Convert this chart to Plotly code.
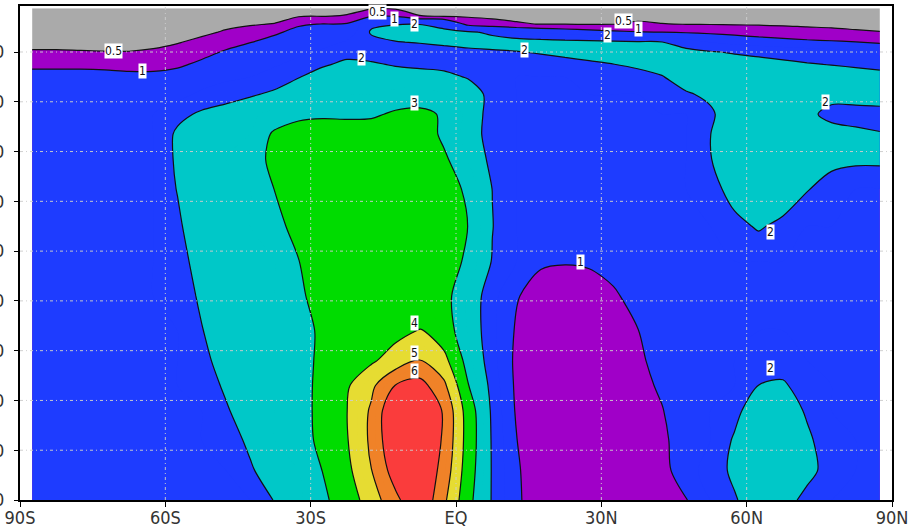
import plotly.graph_objects as go

# latitude of grid columns (deg, negative = south)
lat = [-87.5, -82.5, -77.5, -72.5, -67.5, -62.5, -57.5, -52.5, -47.5, -42.5,
       -37.5, -32.5, -27.5, -22.5, -17.5, -12.5, -7.5, -2.5, 2.5, 7.5,
       12.5, 17.5, 22.5, 27.5, 32.5, 37.5, 42.5, 47.5, 52.5, 57.5,
       62.5, 67.5, 72.5, 77.5, 82.5, 87.5]

# vertical levels of grid rows (top to bottom)
lev = [12, 28, 44, 60, 80, 100, 125, 150, 185, 225, 265, 315, 375, 450,
       520, 590, 660, 720, 770, 820, 880, 940, 1000]

# field values, one column per latitude (top -> bottom)
col_875S = [0.25,0.25,0.25,0.28,0.4,0.53,0.94,1.1,1.31,1.5,1.5,1.5,1.5,1.5,1.5,1.5,1.5,1.5,1.5,1.5,1.5,1.5,1.5]
col_825S = [0.25,0.25,0.25,0.28,0.4,0.53,0.94,1.1,1.31,1.5,1.5,1.5,1.5,1.5,1.5,1.5,1.5,1.5,1.5,1.5,1.5,1.5,1.5]
col_775S = [0.25,0.25,0.25,0.28,0.39,0.52,0.94,1.1,1.31,1.5,1.5,1.5,1.5,1.5,1.5,1.5,1.5,1.5,1.5,1.5,1.5,1.5,1.5]
col_725S = [0.25,0.25,0.25,0.27,0.39,0.51,0.93,1.09,1.31,1.5,1.5,1.5,1.5,1.5,1.5,1.5,1.5,1.5,1.5,1.5,1.5,1.5,1.5]
col_675S = [0.25,0.25,0.25,0.25,0.38,0.51,0.91,1.07,1.28,1.5,1.5,1.5,1.5,1.5,1.5,1.5,1.5,1.5,1.5,1.5,1.5,1.5,1.5]
col_625S = [0.25,0.25,0.25,0.29,0.42,0.54,0.91,1.07,1.28,1.5,1.5,1.5,1.5,1.5,1.5,1.5,1.5,1.5,1.5,1.5,1.5,1.5,1.5]
col_575S = [0.25,0.25,0.26,0.36,0.48,0.61,0.95,1.12,1.33,1.83,2.11,2.11,2.03,1.87,1.7,1.53,1.5,1.5,1.5,1.5,1.5,1.5,1.5]
col_525S = [0.25,0.25,0.34,0.44,0.57,0.91,1.06,1.22,1.6,2.1,2.5,2.5,2.5,2.5,2.33,2.15,1.96,1.76,1.54,1.5,1.5,1.5,1.5]
col_475S = [0.25,0.33,0.43,0.53,0.9,1.03,1.18,1.4,1.76,2.26,2.5,2.5,2.5,2.5,2.5,2.5,2.5,2.36,2.14,1.9,1.58,1.5,1.5]
col_425S = [0.27,0.38,0.48,0.58,0.99,1.12,1.27,1.5,1.93,2.43,2.5,2.61,2.5,2.5,2.5,2.5,2.5,2.5,2.5,2.5,2.18,1.89,1.5]
col_375S = [0.31,0.41,0.51,0.96,1.08,1.21,1.45,1.69,2.11,2.61,3.1,3.22,3.01,2.67,2.5,2.5,2.5,2.5,2.5,2.5,2.5,2.49,2.03]
col_325S = [0.36,0.46,0.97,1.07,1.2,1.4,1.64,1.97,2.39,2.83,3.33,3.5,3.5,3.36,2.98,2.82,2.6,2.63,2.65,2.64,2.61,2.5,2.43]
col_275S = [0.4,0.49,1.01,1.11,1.24,1.63,1.93,2.26,2.5,2.89,3.39,3.5,3.5,3.5,3.5,3.42,3.2,3.22,3.26,3.28,3.24,3.02,2.83]
col_225S = [0.42,0.52,1.05,1.15,1.57,1.82,2.12,2.44,2.5,2.87,3.37,3.5,3.5,3.5,3.5,3.5,3.5,3.5,3.89,3.99,3.94,3.75,3.47]
col_175S = [0.44,0.98,1.88,2.07,1.82,1.77,2.07,2.39,2.5,2.89,3.39,3.5,3.5,3.5,3.5,3.5,3.5,3.86,4.78,5.13,5.18,4.98,4.47]
col_125S = [0.43,0.97,1.98,2.19,1.98,1.7,1.95,2.27,2.6,3.1,3.5,3.5,3.5,3.5,3.5,3.5,3.69,4.44,6.03,7.0,6.94,6.49,5.75]
col_75S  = [0.41,0.51,1.99,2.19,2.03,1.78,1.89,2.21,2.66,3.16,3.45,3.5,3.5,3.5,3.5,3.5,4.05,5.02,6.42,7.0,7.0,7.0,6.93]
col_25S  = [0.38,0.48,1.8,2.14,2.09,1.84,1.83,2.16,2.5,2.93,2.85,3.12,3.47,3.5,3.48,3.27,3.42,4.3,5.22,5.9,5.87,5.63,5.21]
col_25N  = [0.35,0.45,0.82,2.07,2.15,1.9,1.6,1.95,2.38,2.36,2.32,2.48,2.82,2.99,2.83,2.43,2.46,2.65,3.04,3.5,3.56,3.45,3.27]
col_75N  = [0.32,0.42,0.65,1.9,2.19,1.94,1.64,1.67,1.78,1.77,1.75,1.84,1.99,2.02,1.96,1.65,1.61,1.66,1.77,1.86,1.91,1.93,1.93]
col_125N = [0.31,0.41,0.54,1.63,2.21,1.98,1.68,1.5,1.5,1.5,1.5,1.5,1.5,1.5,1.5,1.04,0.93,0.87,0.89,0.93,1.01,1.05,1.07]
col_175N = [0.3,0.4,0.49,1.46,2.19,2.05,1.75,1.5,1.5,1.5,1.5,1.5,1.5,1.5,1.08,0.75,0.75,0.75,0.75,0.75,0.75,0.75,0.75]
col_225N = [0.29,0.39,0.49,1.32,2.16,2.13,1.83,1.5,1.5,1.5,1.5,1.5,1.5,1.5,1.03,0.75,0.75,0.75,0.75,0.75,0.75,0.75,0.75]
col_275N = [0.28,0.38,0.48,1.21,2.14,2.21,1.91,1.59,1.5,1.5,1.5,1.5,1.5,1.5,1.07,0.75,0.75,0.75,0.75,0.75,0.75,0.75,0.75]
col_325N = [0.29,0.39,0.49,1.1,2.1,2.3,1.99,1.67,1.5,1.5,1.5,1.5,1.5,1.5,1.5,0.81,0.75,0.75,0.75,0.75,0.75,0.75,0.75]
col_375N = [0.31,0.41,0.55,1.02,2.05,2.3,2.11,1.79,1.5,1.5,1.5,1.5,1.5,1.5,1.5,1.5,0.97,0.75,0.75,0.75,0.75,0.75,0.75]
col_425N = [0.3,0.4,0.51,0.99,2.01,2.26,2.29,1.96,1.54,1.5,1.5,1.5,1.5,1.5,1.5,1.5,1.5,1.48,1.12,0.96,0.8,0.75,0.75]
col_475N = [0.29,0.39,0.49,0.95,1.71,2.16,2.46,2.35,1.92,1.5,1.5,1.5,1.5,1.5,1.5,1.5,1.5,1.5,1.5,1.5,1.5,1.42,0.97]
col_525N = [0.28,0.38,0.48,0.9,1.49,2.04,2.34,2.45,2.15,1.88,1.99,1.97,1.73,1.5,1.5,1.5,1.5,1.5,1.5,1.5,1.5,1.58,1.5]
col_575N = [0.27,0.37,0.47,0.83,1.37,1.95,2.25,2.5,2.5,2.48,2.5,2.5,2.29,1.8,1.5,1.5,1.5,1.5,1.5,1.81,2.08,2.18,1.92]
col_625N = [0.26,0.36,0.46,0.75,1.27,1.88,2.18,2.5,2.5,2.5,2.5,2.5,2.5,2.08,1.5,1.5,1.5,1.67,2.01,2.43,2.5,2.5,2.5]
col_675N = [0.25,0.35,0.45,0.69,1.18,1.81,2.11,2.43,2.5,2.5,2.5,2.5,2.5,1.81,1.5,1.5,1.5,1.67,2.1,2.49,2.5,2.5,2.35]
col_725N = [0.25,0.33,0.43,0.63,1.11,1.74,2.04,2.36,2.5,2.17,2.43,2.5,2.05,1.5,1.5,1.5,1.5,1.5,1.65,1.89,2.15,2.26,1.75]
col_775N = [0.25,0.32,0.42,0.59,1.06,1.68,1.98,2.31,2.23,1.79,2.29,2.31,1.56,1.5,1.5,1.5,1.5,1.5,1.5,1.5,1.55,1.66,1.5]
col_825N = [0.25,0.31,0.41,0.54,1.01,1.62,1.92,2.24,2.27,1.77,2.13,2.15,1.5,1.5,1.5,1.5,1.5,1.5,1.5,1.5,1.5,1.5,1.5]
col_875N = [0.25,0.3,0.4,0.51,0.95,1.33,1.85,2.18,2.3,1.8,2.03,2.15,1.5,1.5,1.5,1.5,1.5,1.5,1.5,1.5,1.5,1.5,1.5]

columns = [col_875S, col_825S, col_775S, col_725S, col_675S, col_625S, col_575S,
           col_525S, col_475S, col_425S, col_375S, col_325S, col_275S, col_225S,
           col_175S, col_125S, col_75S, col_25S, col_25N, col_75N, col_125N,
           col_175N, col_225N, col_275N, col_325N, col_375N, col_425N, col_475N,
           col_525N, col_575N, col_625N, col_675N, col_725N, col_775N, col_825N,
           col_875N]
z = [list(row) for row in zip(*columns)]

# axis ticks
x_tickvals = [-90, -60, -30, 0, 30, 60, 90]
x_ticktext = ["90S", "60S", "30S", "EQ", "30N", "60N", "90N"]
y_tickvals = [1000, 900, 800, 700, 600, 500, 400, 300, 200, 100]
y_ticktext = ["1000", "900", "800", "700", "600", "500", "400", "300", "200", "100"]

# contour labels as they appear in the picture
label_text = ["0.5", "1", "0.5", "1", "2", "2", "2", "2", "0.5", "1", "2", "3",
              "2", "1", "4", "5", "6", "2"]
label_lat = [-70.7, -64.7, -16.2, -12.6, -8.5, -19.6, 14.2, 31.2, 34.6, 37.6, 76.2, -8.5,
             65.0, 25.6, -8.5, -8.5, -8.5, 65.0]
label_lev = [97, 139, 20, 33, 44, 112, 96, 66, 38, 54, 200, 202,
             462, 522, 644, 705, 741, 735]

# band colours (GrADS defaults): <0.5, 0.5-1, 1-2, 2-3, 3-4, 4-5, 5-6, >6
GRAY, PURPLE, BLUE, CYAN = "#aaaaaa", "#a000c8", "#1e3cff", "#00c8c8"
GREEN, YELLOW, ORANGE, RED = "#00dc00", "#e6dc32", "#f08228", "#fa3c3c"
band_colors = [GRAY, PURPLE, BLUE, BLUE, CYAN, CYAN, GREEN, GREEN,
               YELLOW, YELLOW, ORANGE, ORANGE, RED]
n = len(band_colors) - 1
colorscale = []
for i, c in enumerate(band_colors):
    lo = max(0.0, (i - 0.5) / n)
    hi = min(1.0, (i + 0.5) / n)
    colorscale.append([lo, c])
    colorscale.append([hi, c])

SMOOTH = 0.9
fig = go.Figure()
fig.add_trace(go.Contour(
    x=lat, y=lev, z=z,
    contours=dict(start=0.5, end=6.0, size=0.5, coloring="fill", showlines=False),
    colorscale=colorscale, showscale=False,
    line=dict(width=0, smoothing=SMOOTH), hoverinfo="skip"))
fig.add_trace(go.Contour(
    x=lat, y=lev, z=z,
    contours=dict(start=1, end=6, size=1, coloring="none"),
    showscale=False, line=dict(color="#111111", width=1.2, smoothing=SMOOTH),
    hoverinfo="skip"))
fig.add_trace(go.Contour(
    x=lat, y=lev, z=z,
    contours=dict(start=0.5, end=0.5, size=1, coloring="none"),
    showscale=False, line=dict(color="#111111", width=1.2, smoothing=SMOOTH),
    hoverinfo="skip"))

# dash-dot grid drawn above the filled field
grid = dict(color="rgba(205,205,205,0.95)", width=1, dash="3px,3px,1px,3px")
shapes = []
for xv in x_tickvals[1:-1]:
    shapes.append(dict(type="line", xref="x", yref="y", x0=xv, x1=xv,
                       y0=1000, y1=7.6, line=grid, layer="above"))
for yv in y_tickvals[1:]:
    shapes.append(dict(type="line", xref="x", yref="y", x0=-90, x1=90,
                       y0=yv, y1=yv, line=grid, layer="above"))

label_font = dict(family="Liberation Sans Narrow, DejaVu Sans Condensed, Liberation Sans, sans-serif",
                  size=12, color="#111111")
annotations = []
for t, xa, ya in zip(label_text, label_lat, label_lev):
    annotations.append(dict(x=xa, y=ya, xref="x", yref="y", text=t, showarrow=False,
                            bgcolor="white", borderpad=0, font=label_font))

tick_font = dict(family="Liberation Sans Narrow, DejaVu Sans Condensed, Arial Narrow, Liberation Sans, sans-serif",
                 size=18, color="#333333")
fig.update_layout(
    template="none",
    width=917, height=531,
    margin=dict(l=20, r=25, t=6, b=31, pad=0),
    paper_bgcolor="white", plot_bgcolor="white",
    showlegend=False,
    shapes=shapes, annotations=annotations,
    xaxis=dict(range=[-90, 90], tickvals=x_tickvals, ticktext=x_ticktext,
               showgrid=False, zeroline=False, showline=True, linecolor="black",
               linewidth=2, mirror=True, ticks="outside", ticklen=5,
               tickcolor="black", tickwidth=1, tickfont=tick_font,
               ticklabelstandoff=-5, automargin=False, layer="above traces"),
    yaxis=dict(range=[1000, 7.6], tickvals=y_tickvals, ticktext=y_ticktext,
               showgrid=False, zeroline=False, showline=True, linecolor="black",
               linewidth=2, mirror=True, ticks="outside", ticklen=4,
               tickcolor="black", tickwidth=1, tickfont=tick_font,
               ticklabelstandoff=6, automargin=False, layer="above traces"),
)

fig.write_html("out.html", config={"displayModeBar": False},
               post_script="document.body.style.margin='0px';document.body.style.overflow='hidden';")
